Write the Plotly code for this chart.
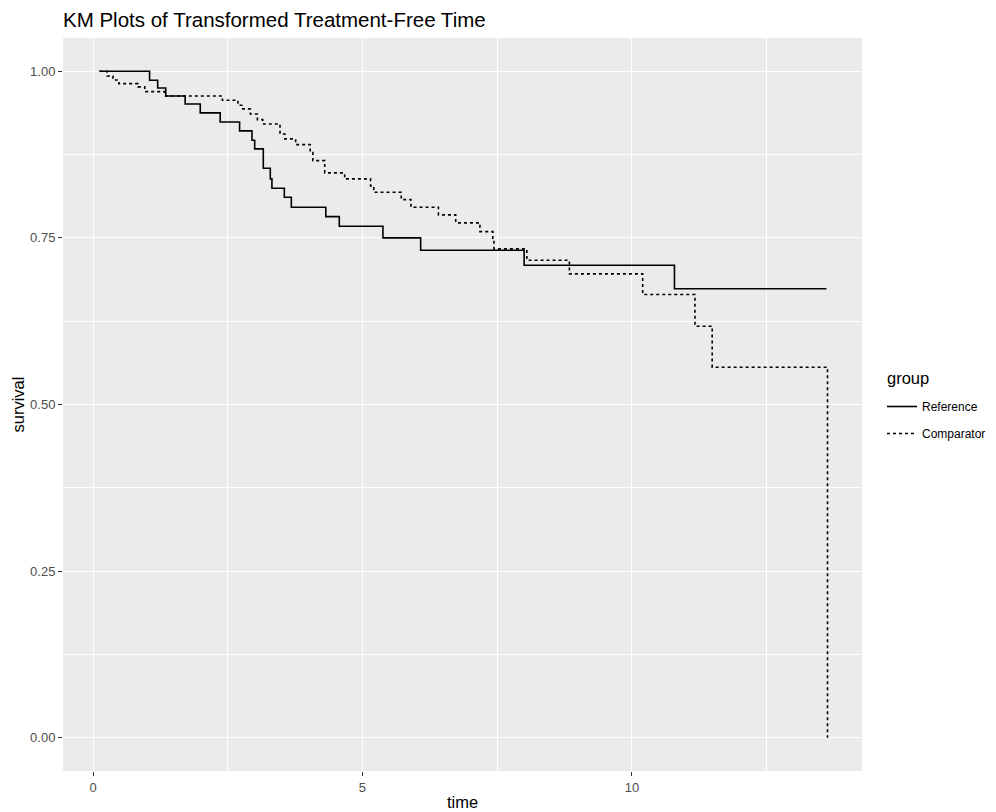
import plotly.graph_objects as go

# ---- data ----
ref_time = [0.12, 1.05, 1.20, 1.35, 1.71, 1.99, 2.36, 2.72, 2.95, 3.00, 3.16, 3.29, 3.32,
            3.55, 3.68, 4.32, 4.57, 5.38, 6.08, 8.00, 10.79, 13.61]
ref_surv = [1.0, 0.9865, 0.975, 0.963, 0.951, 0.9376, 0.924, 0.9106, 0.8965, 0.8836, 0.8545,
            0.8386, 0.8245, 0.811, 0.796, 0.782, 0.7675, 0.750, 0.7315, 0.709, 0.6736, 0.6736]

cmp_time = [0.12, 0.26, 0.37, 0.48, 0.835, 0.96, 1.33, 2.40, 2.69, 2.78, 2.92, 3.05, 3.15,
            3.47, 3.56, 3.76, 4.03, 4.08, 4.30, 4.67, 5.15, 5.21, 5.72, 5.90, 6.41, 6.73,
            7.18, 7.42, 7.44, 8.05, 8.84, 10.20, 11.17, 11.49, 13.63]
cmp_surv = [1.0, 0.993, 0.987, 0.9815, 0.9766, 0.9695, 0.963, 0.9565, 0.949, 0.9436, 0.936,
            0.9275, 0.921, 0.906, 0.8986, 0.890, 0.878, 0.866, 0.8476, 0.8386, 0.828, 0.8185,
            0.8075, 0.796, 0.7846, 0.7726, 0.7595, 0.7475, 0.7335, 0.7165, 0.696, 0.665,
            0.6175, 0.556, 0.0]

group_names = ["Reference", "Comparator"]
x_ticks = [0, 5, 10]
y_ticks = [0.0, 0.25, 0.50, 0.75, 1.00]

FONT = "Liberation Sans, Arial, sans-serif"

fig = go.Figure()
fig.add_trace(go.Scatter(x=ref_time, y=ref_surv, mode="lines", name=group_names[0],
                         line=dict(color="black", width=1.6, shape="hv", dash="solid"),
                         legendgroup="a"))
fig.add_trace(go.Scatter(x=cmp_time, y=cmp_surv, mode="lines", name=group_names[1],
                         line=dict(color="black", width=1.6, shape="hv", dash="dot"),
                         legendgroup="b"))

# the page body adds an 8px offset, so the figure is sized to the visible area
OFF = 8
W, H = 996 - OFF, 812 - OFF
L, R, T, B = 63 - OFF, 134, 38 - OFF, 41
pw, ph = W - L - R, H - T - B

def px_x(p):  # page pixel -> paper x
    return (p - OFF - L) / pw

def px_y(p):  # page pixel -> paper y
    return (H - B - (p - OFF)) / ph

fig.update_layout(
    width=W, height=H,
    margin=dict(l=L, r=R, t=T, b=B, autoexpand=False),
    paper_bgcolor="white",
    plot_bgcolor="#EBEBEB",
    font=dict(family=FONT, color="#4D4D4D"),
    title=dict(text="KM Plots of Transformed Treatment-Free Time",
               font=dict(size=20.5, color="black", family=FONT),
               x=0, xref="paper", xanchor="left",
               y=1 - (20 - OFF) / H, yref="container", yanchor="middle"),
    xaxis=dict(range=[-0.557, 14.27], tickvals=x_ticks, ticktext=[str(v) for v in x_ticks],
               showgrid=True, gridcolor="white", gridwidth=1.4,
               minor=dict(tickvals=[2.5, 7.5, 12.5], showgrid=True, gridcolor="white",
                          gridwidth=0.7, ticks=""),
               ticks="outside", ticklen=4, tickwidth=1, tickcolor="#333333",
               tickfont=dict(size=13, color="#4D4D4D"),
               zeroline=False, showline=False, automargin=False),
    yaxis=dict(range=[-0.05, 1.05], tickvals=y_ticks, tickformat=".2f",
               showgrid=True, gridcolor="white", gridwidth=1.4,
               minor=dict(tickvals=[0.125, 0.375, 0.625, 0.875], showgrid=True,
                          gridcolor="white", gridwidth=0.7, ticks=""),
               ticks="outside", ticklen=4, tickwidth=1, tickcolor="#333333",
               tickfont=dict(size=13, color="#4D4D4D"),
               zeroline=False, showline=False, automargin=False),
    showlegend=True,
    legend=dict(x=px_x(882), y=px_y(392), xanchor="left", yanchor="top",
                bgcolor="rgba(0,0,0,0)", borderwidth=0,
                font=dict(size=12, color="black"),
                itemwidth=30, tracegroupgap=8, traceorder="grouped"),
    annotations=[
        dict(text="group", xref="paper", yref="paper", x=px_x(885), y=px_y(378),
             xanchor="left", yanchor="middle", showarrow=False,
             font=dict(size=16.5, color="black")),
        dict(text="time", xref="paper", yref="paper", x=0.5, y=px_y(802),
             xanchor="center", yanchor="middle", showarrow=False,
             font=dict(size=16.5, color="black")),
        dict(text="survival", xref="paper", yref="paper", x=px_x(17), y=0.5,
             xanchor="center", yanchor="middle", showarrow=False, textangle=-90,
             font=dict(size=16.5, color="black")),
    ],
)

fig.write_html("out.html")
